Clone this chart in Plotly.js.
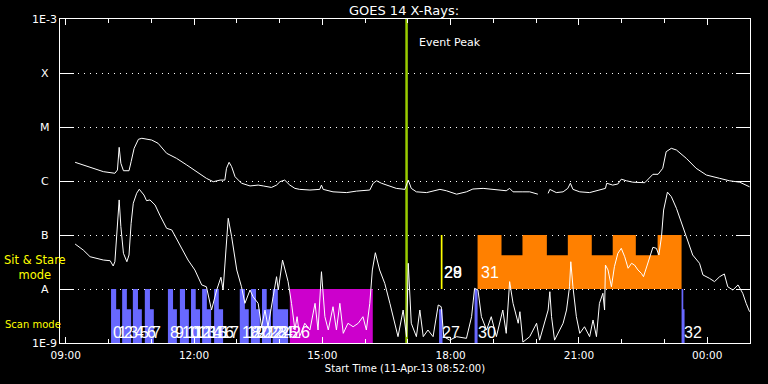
<!DOCTYPE html>
<html><head><meta charset="utf-8">
<script src="https://cdn.plot.ly/plotly-3.0.1.min.js"></script>
<style>html,body{margin:0;padding:0;background:#000;}#chart{width:768px;height:384px;}</style>
</head><body><div id="chart"></div>
<script>
// ---- DATA (hours after 2013-04-11 00:00 UT; flux in W/m^2) ----
const longHours = [9.22,9.65,9.88,10.15,10.21,10.25,10.29,10.35,10.48,10.53,10.60,10.70,10.78,11.01,11.16,11.36,11.59,11.83,12.06,12.29,12.45,12.61,12.72,12.76,12.82,12.88,12.96,13.11,13.31,13.50,13.62,13.81,13.93,14.01,14.12,14.24,14.36,14.47,14.71,14.94,14.98,15.02,15.25,15.57,15.80,16.11,16.19,16.27,16.38,16.58,16.73,16.93,17.01,17.08,17.20,17.44,17.75,17.90,18.14,18.37,18.52,18.76,19.07,19.30,19.38,19.46,19.69,19.85,20.04,null,20.28,20.32,20.47,20.63,20.74,20.80,20.86,21.02,21.25,21.48,21.62,21.65,21.79,21.91,21.99,22.11,22.26,22.54,22.65,22.73,22.85,22.96,23.04,23.16,23.28,23.51,23.74,23.98,24.29,24.52,24.76,24.99];
const longFlux = [2.22e-6,1.72e-6,1.49e-6,1.39e-6,1.6e-6,4.2e-6,2.13e-6,1.55e-6,1.55e-6,2.28e-6,4.03e-6,5.92e-6,6.18e-6,5.74e-6,4.99e-6,3.26e-6,2.63e-6,1.98e-6,1.49e-6,1.12e-6,0.97e-6,1.04e-6,1.04e-6,1.72e-6,2.22e-6,1.84e-6,1.2e-6,0.91e-6,0.81e-6,0.84e-6,0.81e-6,0.76e-6,0.84e-6,0.97e-6,1.04e-6,0.84e-6,0.73e-6,0.70e-6,0.68e-6,0.70e-6,0.84e-6,0.70e-6,0.63e-6,0.61e-6,0.65e-6,0.68e-6,0.91e-6,1.01e-6,0.91e-6,0.81e-6,0.73e-6,0.70e-6,1.04e-6,0.73e-6,0.63e-6,0.61e-6,0.70e-6,0.66e-6,0.57e-6,0.63e-6,0.71e-6,0.73e-6,0.70e-6,0.66e-6,0.73e-6,0.63e-6,0.63e-6,0.63e-6,0.57e-6,null,0.59e-6,0.70e-6,0.61e-6,0.63e-6,0.73e-6,0.91e-6,0.70e-6,0.63e-6,0.61e-6,0.68e-6,0.73e-6,0.91e-6,0.84e-6,0.88e-6,1.08e-6,1.01e-6,0.95e-6,0.93e-6,1.12e-6,1.33e-6,1.33e-6,1.72e-6,3.49e-6,4.03e-6,3.75e-6,2.63e-6,1.72e-6,1.29e-6,1.12e-6,1.01e-6,0.95e-6,0.78e-6];

const shortHours = [9.22,9.41,9.57,9.72,9.88,10.04,10.11,10.15,10.21,10.25,10.29,10.35,10.43,10.48,10.53,10.58,10.66,10.72,10.83,10.89,10.97,11.09,11.20,11.36,11.48,11.67,11.86,12.02,12.18,12.29,12.41,12.53,12.63,12.68,12.75,12.80,12.88,13.00,13.11,13.19,13.31,13.38,13.50,13.58,13.66,13.73,13.85,13.93,13.97,14.07,14.20,14.28,14.36,14.41,14.47,14.59,14.71,14.83,14.90,14.98,15.06,15.14,15.25,15.33,15.41,15.49,15.60,15.72,15.84,15.95,16.03,16.11,16.17,16.24,16.34,16.46,16.58,16.69,16.77,16.89,16.97,17.01,17.08,17.20,17.28,17.36,17.47,17.59,17.71,17.78,17.84,17.98,18.14,18.37,18.49,18.56,18.64,18.72,18.84,18.95,19.07,19.22,19.30,19.38,19.46,19.58,19.62,19.69,19.85,20.01,20.08,20.28,20.32,20.36,20.43,20.63,20.71,20.78,20.81,20.86,20.94,21.02,21.13,21.25,21.33,21.41,21.48,21.56,21.60,21.62,21.68,21.76,21.83,21.91,21.99,22.07,22.15,22.23,22.30,22.38,22.46,22.51,22.58,22.65,22.73,22.81,22.87,22.93,22.98,23.07,23.16,23.28,23.43,23.55,23.66,23.82,23.90,24.05,24.17,24.29,24.40,24.48,24.60,24.72,24.83,24.91,24.99];
const shortFlux = [6.8e-8,5.27e-8,3.96e-8,3.70e-8,3.44e-8,3.34e-8,2.67e-8,3.20e-8,12.4e-8,44.6e-8,14.3e-8,4.58e-8,3.20e-8,4.26e-8,16.5e-8,38.7e-8,59.4e-8,70.3e-8,55e-8,43.2e-8,44.6e-8,35.9e-8,23.4e-8,13.3e-8,12.4e-8,6.52e-8,3.44e-8,2.25e-8,1.19e-8,1.10e-8,0.408e-8,0.958e-8,1.65e-8,0.958e-8,6.07e-8,20.4e-8,9.3e-8,2.25e-8,1.10e-8,0.543e-8,0.958e-8,0.72e-8,0.543e-8,0.2e-8,0.408e-8,0.2e-8,0.72e-8,1.69e-8,0.958e-8,3.44e-8,1.37e-8,0.543e-8,0.174e-8,0.307e-8,0.131e-8,0.232e-8,0.174e-8,0.543e-8,0.174e-8,2.09e-8,0.307e-8,0.174e-8,0.47e-8,0.174e-8,0.543e-8,0.151e-8,0.232e-8,0.2e-8,0.232e-8,0.307e-8,0.174e-8,0.543e-8,2.25e-8,4.70e-8,2.25e-8,1.27e-8,0.543e-8,0.232e-8,0.131e-8,0.408e-8,0.131e-8,2.99e-8,0.232e-8,0.131e-8,0.408e-8,0.131e-8,0.174e-8,0.131e-8,0.506e-8,0.47e-8,0.131e-8,0.113e-8,0.131e-8,0.122e-8,0.307e-8,1.03e-8,0.958e-8,0.307e-8,0.174e-8,0.307e-8,0.131e-8,0.408e-8,0.151e-8,1.37e-8,0.543e-8,0.232e-8,0.38e-8,0.104e-8,0.131e-8,0.232e-8,0.113e-8,0.408e-8,0.891e-8,0.307e-8,0.113e-8,0.232e-8,0.408e-8,1.10e-8,3.20e-8,1.10e-8,0.307e-8,0.151e-8,0.2e-8,0.131e-8,0.267e-8,0.131e-8,0.543e-8,0.833e-8,0.408e-8,2.78e-8,2.25e-8,1.10e-8,2.59e-8,4.58e-8,5.67e-8,3.96e-8,2.42e-8,2.99e-8,2.78e-8,2.25e-8,1.95e-8,1.69e-8,2.59e-8,3.70e-8,5.92e-8,5.67e-8,4.26e-8,9.3e-8,29.0e-8,62.2e-8,51.4e-8,31.2e-8,14.3e-8,7.0e-8,4.26e-8,2.99e-8,1.82e-8,1.58e-8,1.37e-8,1.69e-8,1.90e-8,1.10e-8,0.958e-8,1.19e-8,0.833e-8,0.543e-8,0.38e-8];

// scan-mode observations (blue)
const scanStart = [10.06,10.18,10.32,10.43,10.57,10.69,10.85,10.97,11.39,11.51,11.67,11.79,11.93,12.04,12.19,12.30,12.47,12.58,13.07,13.19,13.33,13.45,13.59,13.70,13.84,13.96,17.73,18.56,23.40,23.40];
const scanEnd   = [10.18,10.27,10.43,10.53,10.69,10.78,10.97,11.06,11.51,11.60,11.79,11.88,12.04,12.14,12.30,12.40,12.58,12.68,13.19,13.28,13.45,13.54,13.70,13.80,13.96,14.20,17.81,18.63,23.44,23.47];
const scanTop   = [1e-8,4.2e-9,1e-8,4.2e-9,1e-8,4.2e-9,1e-8,4.2e-9,1e-8,4.2e-9,1e-8,4.2e-9,1e-8,4.2e-9,1e-8,4.2e-9,1e-8,4.2e-9,1e-8,4.2e-9,1e-8,4.2e-9,1e-8,4.2e-9,1e-8,4.2e-9,4.2e-9,1e-8,1e-8,4.2e-9];
// long scan (magenta)
const longScanStart = [14.24];
const longScanEnd = [16.18];
const longScanTop = [1e-8];
// sit & stare (yellow)
const stareStart = [17.77];
const stareEnd = [17.81];
const stareTop = [1e-7];
// sit & stare raster (orange)
const rasterStart = [18.63,19.19,19.68,20.25,20.74,21.30,21.79,22.33,22.84];
const rasterEnd   = [19.19,19.68,20.25,20.74,21.30,21.79,22.33,22.84,23.40];
const rasterTop   = [1e-7,4.2e-8,1e-7,4.2e-8,1e-7,4.2e-8,1e-7,4.2e-8,1e-7];

// observation labels
const obsLabels = ['0','1','2','3','4','5','6','7','8','9','10','11','12','13','14','15','16','17','18','19','20','21','22','23','24','25','26','27','28','29','30','31','32'];
const obsLabelHours = [10.06,10.18,10.32,10.43,10.57,10.69,10.85,10.97,11.39,11.51,11.67,11.79,11.93,12.04,12.19,12.30,12.47,12.58,13.07,13.19,13.33,13.45,13.59,13.70,13.84,13.96,14.24,17.76,17.80,17.81,18.60,18.66,23.40];
const obsLabelRow = ['s','s','s','s','s','s','s','s','s','s','s','s','s','s','s','s','s','s','s','s','s','s','s','s','s','s','s','s','t','t','s','t','s'];

const eventPeakHour = 16.97;
const yTickVals = [1e-9,1e-8,1e-7,1e-6,1e-5,1e-4,1e-3];
const yTickText = ['1E-9','A','B','C','M','X','1E-3'];

// ---- helpers ----
const BASE = Date.UTC(2013,3,11,0,0,0);
function toDate(h){
  if(h===null) return null;
  const d = new Date(BASE + Math.round(h*3600000));
  const p = n => String(n).padStart(2,'0');
  return d.getUTCFullYear()+'-'+p(d.getUTCMonth()+1)+'-'+p(d.getUTCDate())+' '+p(d.getUTCHours())+':'+p(d.getUTCMinutes())+':'+p(d.getUTCSeconds());
}
function boxes(starts, ends, tops, bottom, color){
  const x=[], y=[];
  for(let i=0;i<starts.length;i++){
    const s=toDate(starts[i]), e=toDate(ends[i]);
    x.push(s,e,e,s,s,null); y.push(bottom,bottom,tops[i],tops[i],bottom,null);
  }
  return {x, y, type:'scatter', mode:'lines', fill:'toself', fillcolor:color, line:{width:0, color:color}, hoverinfo:'skip', showlegend:false};
}
function steps(starts, ends, tops, bottom, color){
  const x=[toDate(starts[0])], y=[bottom];
  for(let i=0;i<starts.length;i++){
    x.push(toDate(starts[i]), toDate(ends[i])); y.push(tops[i], tops[i]);
  }
  x.push(toDate(ends[ends.length-1]), toDate(starts[0])); y.push(bottom, bottom);
  return {x, y, type:'scatter', mode:'lines', fill:'toself', fillcolor:color, line:{width:0, color:color}, hoverinfo:'skip', showlegend:false};
}

const traces = [
  boxes(scanStart, scanEnd, scanTop, 1e-9, '#6868ff'),
  boxes(longScanStart, longScanEnd, longScanTop, 1e-9, '#cc00cc'),
  boxes(stareStart, stareEnd, stareTop, 1e-8, '#ffff00'),
  steps(rasterStart, rasterEnd, rasterTop, 1e-8, '#ff8000'),
  {x:[toDate(eventPeakHour),toDate(eventPeakHour)], y:[1e-9,1e-3], type:'scatter', mode:'lines', line:{color:'#99cc00', width:2.5}, hoverinfo:'skip', showlegend:false},
  {x:longHours.map(toDate), y:longFlux, type:'scatter', mode:'lines', line:{color:'#ffffff', width:1}, connectgaps:false, hoverinfo:'skip', showlegend:false},
  {x:shortHours.map(toDate), y:shortFlux, type:'scatter', mode:'lines', line:{color:'#ffffff', width:1}, hoverinfo:'skip', showlegend:false}
];

const FONT = 'DejaVu Sans, Verdana, sans-serif';
const NUMFONT = 'Liberation Sans, Arial, sans-serif';
const ann = [];
// y-axis labels, centred left of the axis
for(let i=0;i<yTickVals.length;i++){
  ann.push({xref:'paper', yref:'y', x:-15.5/690, y:Math.log10(yTickVals[i]), text:yTickText[i], showarrow:false, xanchor:'center', yanchor:'middle', font:{family:FONT, size:11, color:'#ffffff'}});
}
ann.push({xref:'paper', yref:'y', x:-25.5/690, y:-7.6, text:'Sit & Stare<br>mode', showarrow:false, xanchor:'center', yanchor:'middle', font:{family:FONT, size:11.5, color:'#ffff00'}});
ann.push({xref:'paper', yref:'y', x:-57/690, y:-8.65, text:'Scan mode', showarrow:false, xanchor:'left', yanchor:'middle', font:{family:FONT, size:10, color:'#ffff00'}});
ann.push({xref:'x', yref:'y', x:toDate(eventPeakHour), xshift:10, y:-3.44, text:'Event Peak', showarrow:false, xanchor:'left', yanchor:'middle', font:{family:FONT, size:11, color:'#ffffff'}});
for(let i=0;i<obsLabels.length;i++){
  ann.push({xref:'x', yref:'y', x:toDate(obsLabelHours[i]), y:(obsLabelRow[i]==='s'?-8.8:-7.69), text:obsLabels[i], showarrow:false, xanchor:'left', yanchor:'middle', font:{family:NUMFONT, size:16, color:'#ffffff'}});
}

const layout = {
  width:768, height:384,
  paper_bgcolor:'#000000', plot_bgcolor:'#000000',
  margin:{l:60, r:18, t:19, b:41},
  showlegend:false, hovermode:false,
  title:{text:'GOES 14 X-Rays:', x:404/768, xanchor:'center', y:1-10/384, yanchor:'middle', font:{family:FONT, size:13, color:'#ffffff'}},
  xaxis:{type:'date', range:[toDate(8+52/60), toDate(25)], tick0:toDate(9), dtick:3*3600000, tickformat:'%H:%M',
    ticks:'inside', ticklen:6, tickcolor:'#ffffff', tickwidth:1, showline:true, linecolor:'#ffffff', linewidth:1, mirror:'ticks',
    showgrid:false, zeroline:false, ticklabelstandoff:2,
    minor:{dtick:3600000, ticks:'inside', ticklen:4, tickcolor:'#ffffff', tickwidth:1, showgrid:false},
    tickfont:{family:FONT, size:10.5, color:'#ffffff'},
    title:{text:'Start Time (11-Apr-13 08:52:00)', font:{family:FONT, size:10, color:'#ffffff'}, standoff:5}},
  yaxis:{type:'log', range:[-9,-3], tickvals:yTickVals, ticktext:yTickText, showticklabels:false,
    ticks:'inside', ticklen:14, tickcolor:'#ffffff', tickwidth:1, showline:true, linecolor:'#ffffff', linewidth:1, mirror:'ticks',
    showgrid:true, gridcolor:'#ffffff', gridwidth:1, griddash:'1px,5px', zeroline:false},
  annotations:ann
};
Plotly.newPlot('chart', traces, layout, {displayModeBar:false, staticPlot:true});
</script></body></html>
